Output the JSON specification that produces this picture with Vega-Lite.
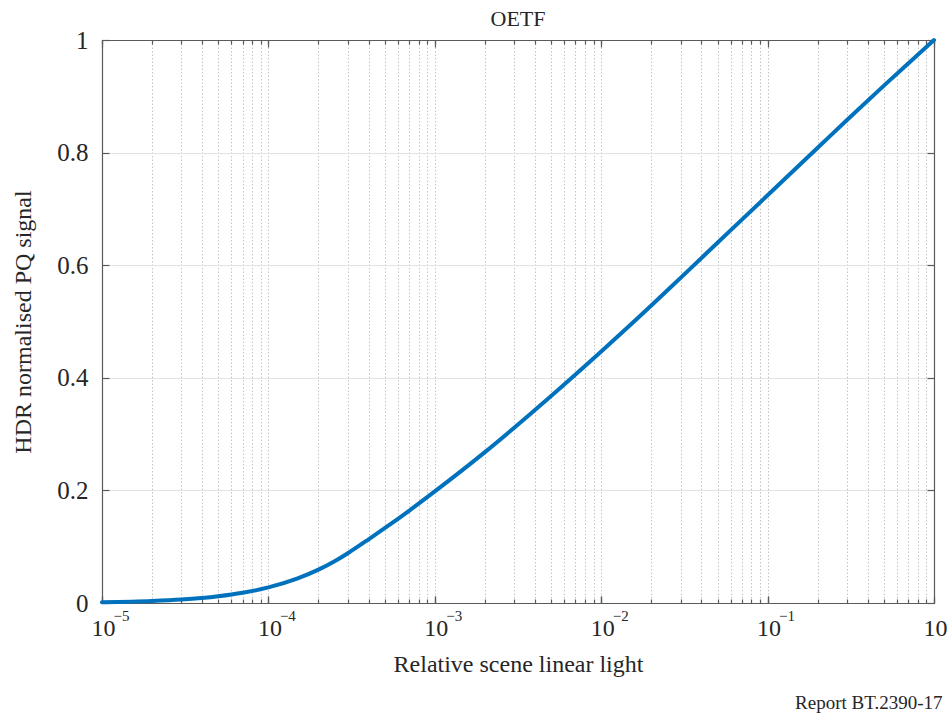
{
  "$schema": "https://vega.github.io/schema/vega-lite/v6.json",
  "width": 832,
  "height": 563,
  "autosize": {"type": "none"},
  "padding": {"left": 102, "top": 40, "right": 13, "bottom": 114},
  "background": "white",
  "title": {"text": "OETF", "font": "Liberation Serif", "fontSize": 22, "fontWeight": "normal", "color": "#262626", "anchor": "middle", "offset": -3},
  "config": {
    "font": "Liberation Serif",
    "view": {"stroke": null},
    "axis": {
      "labelFont": "Liberation Serif",
      "titleFont": "Liberation Serif",
      "labelColor": "#262626",
      "titleColor": "#262626",
      "titleFontWeight": "normal",
      "domainColor": "#5a5a5a",
      "tickColor": "#5a5a5a",
      "domainWidth": 1.2,
      "tickWidth": 1.2,
      "labelFlush": false,
      "labelOverlap": false,
      "labelBound": false
    }
  },
  "data": {"values": [
    {"x": 0.00001, "y": 0.00132},
    {"x": 0.00002, "y": 0.00349},
    {"x": 0.00003, "y": 0.00607},
    {"x": 0.00005, "y": 0.0119},
    {"x": 0.00007, "y": 0.0181},
    {"x": 0.0001, "y": 0.0277},
    {"x": 0.00015, "y": 0.0437},
    {"x": 0.0002, "y": 0.0592},
    {"x": 0.00025, "y": 0.0741},
    {"x": 0.0003, "y": 0.0884},
    {"x": 0.0004, "y": 0.1131},
    {"x": 0.0005, "y": 0.1329},
    {"x": 0.0007, "y": 0.1638},
    {"x": 0.001, "y": 0.1982},
    {"x": 0.002, "y": 0.268},
    {"x": 0.003, "y": 0.3113},
    {"x": 0.005, "y": 0.3677},
    {"x": 0.01, "y": 0.4467},
    {"x": 0.02, "y": 0.5283},
    {"x": 0.03, "y": 0.5775},
    {"x": 0.05, "y": 0.6398},
    {"x": 0.1, "y": 0.7243},
    {"x": 0.2, "y": 0.8086},
    {"x": 0.3, "y": 0.858},
    {"x": 0.5, "y": 0.919},
    {"x": 0.7, "y": 0.9584},
    {"x": 1, "y": 1.0}
  ]},
  "resolve": {"axis": {"x": "independent", "y": "independent"}},
  "layer": [
    {
      "mark": {"type": "line", "color": "#0072BD", "strokeWidth": 4, "interpolate": "monotone", "strokeCap": "round"},
      "encoding": {
        "x": {"field": "x", "type": "quantitative",
          "scale": {"type": "log", "domain": [0.00001, 1], "nice": false},
          "axis": {"orient": "bottom", "values": [0.00001,0.00002,0.00003,0.00004,0.00005,0.00006,0.00007,0.00008,0.00009,0.0001,0.0002,0.0003,0.0004,0.0005,0.0006,0.0007,0.0008,0.0009,0.001,0.002,0.003,0.004,0.005,0.006,0.007,0.008,0.009,0.01,0.02,0.03,0.04,0.05,0.06,0.07,0.08,0.09,0.1,0.2,0.3,0.4,0.5,0.6,0.7,0.8,0.9,1],
            "tickSize": -4, "labels": false, "title": null, "grid": true, "gridDash": [1.5, 2], "gridColor": "#c4c4c4", "gridWidth": 1}},
        "y": {"field": "y", "type": "quantitative",
          "scale": {"domain": [0, 1], "nice": false, "zero": false},
          "axis": {"orient": "left", "values": [0, 0.2, 0.4, 0.6, 0.8, 1], "format": "~g", "tickSize": -7, "labelFontSize": 25, "labelPadding": 21,
            "title": "HDR normalised PQ signal", "titleFontSize": 24, "titlePadding": 21, "grid": true, "gridColor": "#e2e2e2", "gridWidth": 1}}
      }
    },
    {
      "mark": {"type": "line", "opacity": 0},
      "encoding": {
        "x": {"field": "x", "type": "quantitative",
          "axis": {"orient": "bottom", "values": [0.00001, 0.0001, 0.001, 0.01, 0.1, 1], "tickSize": -7, "labelFontSize": 24, "labelPadding": 20, "labelOffset": 1, "grid": false,
            "labelExpr": "'10'",
            "title": "Relative scene linear light", "titleFontSize": 24, "titlePadding": 12}},
        "y": {"field": "y", "type": "quantitative",
          "axis": {"orient": "right", "values": [0, 0.2, 0.4, 0.6, 0.8, 1], "tickSize": -7, "labels": false, "title": null, "grid": false}}
      }
    },
    {
      "mark": {"type": "line", "opacity": 0},
      "encoding": {
        "x": {"field": "x", "type": "quantitative",
          "axis": {"orient": "bottom", "values": [0.00001, 0.0001, 0.001, 0.01, 0.1], "tickSize": -7, "labelFontSize": 15, "labelPadding": 12, "labelOffset": 11, "labelAlign": "left", "grid": false, "domain": false,
            "labelExpr": "'−' + format(-round(log(datum.value)/LN10), 'd')",
            "title": null}},
        "y": {"field": "y", "type": "quantitative", "axis": null}
      }
    },
    {
      "mark": {"type": "line", "opacity": 0},
      "encoding": {
        "x": {"field": "x", "type": "quantitative",
          "axis": {"orient": "top", "values": [0.00001,0.00002,0.00003,0.00004,0.00005,0.00006,0.00007,0.00008,0.00009,0.0001,0.0002,0.0003,0.0004,0.0005,0.0006,0.0007,0.0008,0.0009,0.001,0.002,0.003,0.004,0.005,0.006,0.007,0.008,0.009,0.01,0.02,0.03,0.04,0.05,0.06,0.07,0.08,0.09,0.1,0.2,0.3,0.4,0.5,0.6,0.7,0.8,0.9,1],
            "tickSize": -4, "labels": false, "title": null, "grid": false}},
        "y": {"field": "y", "type": "quantitative", "axis": null}
      }
    },
    {
      "mark": {"type": "line", "opacity": 0},
      "encoding": {
        "x": {"field": "x", "type": "quantitative",
          "axis": {"orient": "top", "values": [0.00001, 0.0001, 0.001, 0.01, 0.1, 1], "tickSize": -7, "labels": false, "title": null, "grid": false}},
        "y": {"field": "y", "type": "quantitative", "axis": null}
      }
    },
    {
      "mark": {"type": "line", "opacity": 0},
      "encoding": {
        "x": {"field": "x", "type": "quantitative",
          "axis": {"orient": "bottom", "labels": false, "ticks": false, "domain": false, "grid": false,
            "title": "Report BT.2390-17", "titleFontSize": 19, "titleAnchor": "end", "titleAlign": "right", "titleX": 840, "titlePadding": 90}},
        "y": {"field": "y", "type": "quantitative", "axis": null}
      }
    }
  ]
}
